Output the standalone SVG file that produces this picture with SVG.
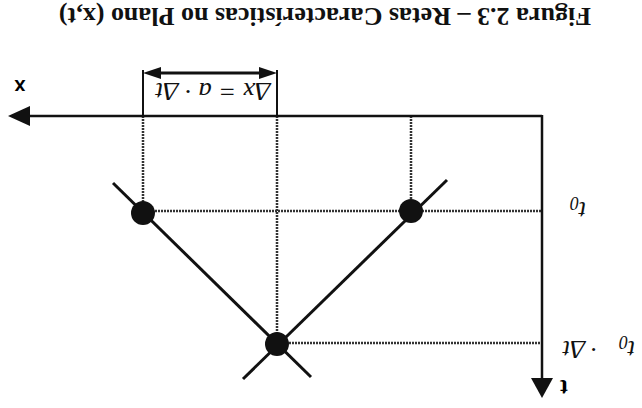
<svg xmlns="http://www.w3.org/2000/svg" width="642" height="408" viewBox="0 0 642 408">
<style>
.title{font-family:"Liberation Serif",serif;font-weight:bold;font-size:26px;fill:#111}
.math{font-family:"Liberation Serif",serif;font-style:italic;font-size:26px;fill:#111}
.axis{stroke:#111;stroke-width:2.5;fill:none}
.dot{stroke:#333;stroke-width:2.5;stroke-dasharray:2 1;fill:none}
.char{stroke:#111;stroke-width:3;fill:none}
.node{fill:#111}
</style>
<rect width="642" height="408" fill="#fff"/>
<text class="title" text-anchor="middle" transform="translate(325,8) rotate(180)">Figura 2.3 – Retas Características no Plano (x,t)</text>
<g id="connectors">
  <line class="dot" x1="143" y1="116" x2="143" y2="213"/>
  <line class="dot" x1="277" y1="116" x2="277" y2="343"/>
  <line class="dot" x1="411" y1="116" x2="411" y2="211"/>
  <line class="dot" x1="143" y1="211" x2="541" y2="211"/>
  <line class="dot" x1="277" y1="343" x2="541" y2="343"/>
  <line class="char" x1="113" y1="183" x2="311" y2="377"/>
  <line class="char" x1="447" y1="180" x2="243" y2="379"/>
  <line class="axis" x1="28" y1="116" x2="542" y2="116"/>
  <line class="axis" x1="542" y1="115" x2="542" y2="380"/>
  <polygon points="8,116 30,106 30,126" fill="#111"/>
  <polygon points="542,398 531,378 553,378" fill="#111"/>
  <line x1="143" y1="70" x2="143" y2="116" stroke="#111" stroke-width="2"/>
  <line x1="277" y1="70" x2="277" y2="116" stroke="#111" stroke-width="2"/>
  <line x1="155" y1="73" x2="265" y2="73" stroke="#111" stroke-width="3"/>
  <polygon points="143,73 161,67 161,79" fill="#111"/>
  <polygon points="277,73 259,67 259,79" fill="#111"/>
</g>
<g id="node-left"><circle class="node" cx="143" cy="213" r="12"/></g>
<g id="node-right"><circle class="node" cx="411" cy="211" r="12"/></g>
<g id="node-bottom"><circle class="node" cx="277" cy="344" r="12"/></g>
<g id="labels">
  <text font-family="Liberation Sans,sans-serif" font-weight="bold" font-size="20" text-anchor="middle" transform="translate(20,80) rotate(180)">x</text>
  <text class="math" text-anchor="middle" textLength="115" lengthAdjust="spacingAndGlyphs" transform="translate(213,83) rotate(180)">Δx = a · Δt</text>
  <text class="math" text-anchor="middle" transform="translate(578,202) rotate(180)">t<tspan font-size="18" dy="5">0</tspan></text>
  <text class="math" text-anchor="middle" transform="translate(627,341) rotate(180)">t<tspan font-size="18" dy="5">0</tspan></text>
  <text class="math" text-anchor="middle" transform="translate(594,341) rotate(180)">·</text>
  <text class="math" text-anchor="middle" transform="translate(574,341) rotate(180)">Δt</text>
  <text font-family="Liberation Serif,serif" font-weight="bold" font-size="24" text-anchor="middle" transform="translate(564,380) rotate(180)">t</text>
</g>
</svg>
